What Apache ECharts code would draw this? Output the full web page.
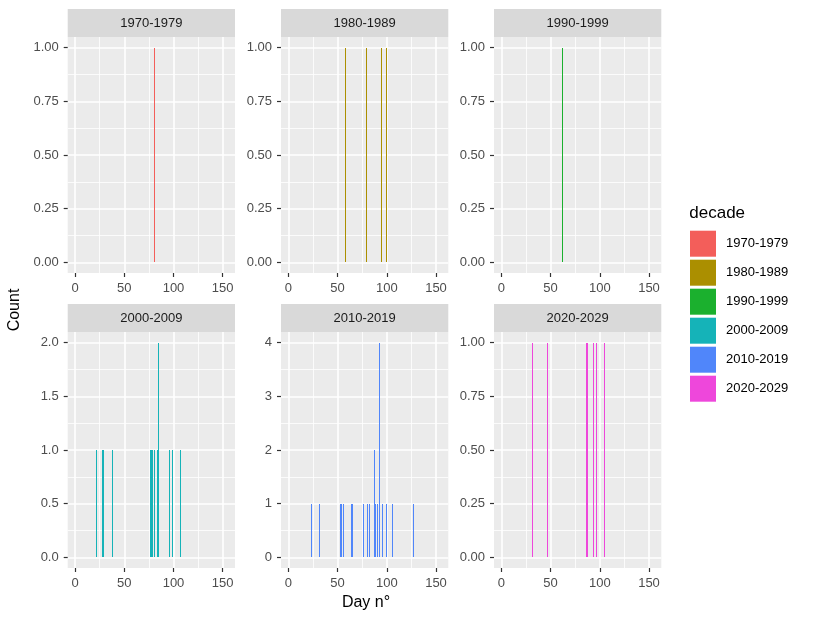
<!DOCTYPE html>
<html><head><meta charset="utf-8">
<script src="https://cdn.jsdelivr.net/npm/echarts@6/dist/echarts.min.js"></script>
<style>html,body{margin:0;padding:0;background:#fff}#c{width:815px;height:621px}</style>
</head><body><div id="c"></div>
<script>
// ---- data ----
const decades = ['1970-1979','1980-1989','1990-1999','2000-2009','2010-2019','2020-2029'];
const colors  = ['#F35E5A','#AB8F00','#1BB02E','#15B3B8','#5086FA','#EE47DB'];
const days1970 = [81];
const counts1970 = [1];
const days1980 = [58, 79, 95, 100];
const counts1980 = [1, 1, 1, 1];
const days1990 = [62];
const counts1990 = [1];
const days2000 = [22, 28, 29, 38, 77, 78, 79, 81, 84, 85, 96, 99, 107];
const counts2000 = [1, 1, 1, 1, 1, 1, 1, 1, 1, 2, 1, 1, 1];
const days2010 = [23, 32, 53, 54, 56, 64, 65, 76, 80, 82, 87, 88, 89, 91, 93, 96, 100, 106, 127];
const counts2010 = [1, 1, 1, 1, 1, 1, 1, 1, 1, 1, 2, 1, 1, 1, 4, 1, 1, 1, 1];
const days2020 = [32, 47, 86, 87, 94, 97, 105];
const counts2020 = [1, 1, 1, 1, 1, 1, 1];
const xTicks = [0, 50, 100, 150];
const yTickMax = [1, 1, 1, 2, 4, 1];
const yTickStep = [0.25, 0.25, 0.25, 0.5, 1, 0.25];
const yTickDecimals = [2, 2, 2, 1, 0, 2];
const binWidth = 1;
const xTitle = 'Day n°';
const yTitle = 'Count';
const legendTitle = 'decade';

const allDays = [days1970, days1980, days1990, days2000, days2010, days2020];
const allCounts = [counts1970, counts1980, counts1990, counts2000, counts2010, counts2020];

// ---- layout ----
const FONT = '"Liberation Sans", Arial, sans-serif';
const colLeft = [67.7, 281, 494];
const panelW = 167.3;
const rowTop = [37, 332];
const panelH = 236;
const stripH = 28;
const xLo = -7.5, xHi = 162.5;   // expanded x range
const xMin = xTicks[0], xMax = xTicks[xTicks.length - 1];

const grids = [], xAxes = [], yAxes = [], series = [], graphics = [];
const hiddenAxis = (gi, min, max) => ({type:'value', gridIndex:gi, min, max, show:false});

function renderBin(params, api) {
  const d = api.value(0), c = api.value(1);
  const p0 = api.coord([d - binWidth / 2, 0]);
  const p1 = api.coord([d + binWidth / 2, c]);
  let x0 = Math.round(p0[0]), x1 = Math.round(p1[0]);
  if (x1 - x0 < 1) x1 = x0 + 1;
  const yb = Math.round(p0[1]), yt = Math.round(p1[1]);
  return {type:'rect', shape:{x:x0, y:yt, width:x1 - x0, height:yb - yt},
    style:{fill:api.visual('color')}};
}

decades.forEach((name, p) => {
  const L = colLeft[p % 3], T = rowTop[Math.floor(p / 3)];
  const yMax = yTickMax[p];
  const xInL = L + panelW * (xMin - xLo) / (xHi - xLo);
  const xInW = panelW * (xMax - xMin) / (xHi - xLo);
  const yInT = T + panelH * 0.05 / 1.1;
  const yInH = panelH / 1.1;
  const base = grids.length;
  // background
  grids.push({left:L, top:T, width:panelW, height:panelH, show:true, backgroundColor:'#EBEBEB', borderWidth:0, z:0});
  xAxes.push(hiddenAxis(base, 0, 1)); yAxes.push(hiddenAxis(base, 0, 1));
  // vertical grid lines + x labels
  grids.push({left:xInL, top:T, width:xInW, height:panelH, z:0});
  xAxes.push({type:'value', gridIndex:base+1, min:xMin, max:xMax, interval:50, z:1,
    axisLine:{show:false},
    axisTick:{show:true, length:4, lineStyle:{color:'#333333', width:1.2}},
    axisLabel:{show:true, color:'#4D4D4D', fontSize:13, fontFamily:FONT, margin:9},
    splitLine:{show:true, lineStyle:{color:'#FFFFFF', width:1.6}},
    minorTick:{show:false, splitNumber:2},
    minorSplitLine:{show:true, lineStyle:{color:'#FFFFFF', width:0.8}}});
  yAxes.push(hiddenAxis(base+1, 0, 1));
  // horizontal grid lines + y labels
  grids.push({left:L, top:yInT, width:panelW, height:yInH, z:0});
  xAxes.push(hiddenAxis(base+2, 0, 1));
  yAxes.push({type:'value', gridIndex:base+2, min:0, max:yMax, interval:yTickStep[p], z:1,
    axisLine:{show:false},
    axisTick:{show:true, length:4, lineStyle:{color:'#333333', width:1.2}},
    axisLabel:{show:true, color:'#4D4D4D', fontSize:13, fontFamily:FONT, margin:9,
      formatter: v => Number(v).toFixed(yTickDecimals[p])},
    splitLine:{show:true, lineStyle:{color:'#FFFFFF', width:1.6}},
    minorTick:{show:false, splitNumber:2},
    minorSplitLine:{show:true, lineStyle:{color:'#FFFFFF', width:0.8}}});
  // data grid
  grids.push({left:xInL, top:yInT, width:xInW, height:yInH, z:0});
  xAxes.push(hiddenAxis(base+3, xMin, xMax));
  yAxes.push(hiddenAxis(base+3, 0, yMax));
  series.push({type:'custom', name:name, xAxisIndex:base+3, yAxisIndex:base+3, z:3,
    renderItem:renderBin, clip:false, silent:true, itemStyle:{color:colors[p]},
    encode:{x:0, y:1},
    data: allDays[p].map((d, i) => [d, allCounts[p][i]])});
  // strip
  graphics.push({type:'rect', shape:{x:L, y:T - stripH, width:panelW, height:stripH}, style:{fill:'#D9D9D9'}});
  graphics.push({type:'text', x:L + panelW / 2, y:T - stripH / 2,
    style:{text:name, align:'center', verticalAlign:'middle', fontSize:13, fontFamily:FONT, fill:'#1A1A1A'}});
});

graphics.push({type:'text', x:366, y:603, style:{text:xTitle, align:'center', verticalAlign:'middle', fontSize:16, fontFamily:FONT, fill:'#000'}});
graphics.push({type:'text', x:15, y:310, rotation:Math.PI/2, style:{text:yTitle, align:'center', verticalAlign:'middle', fontSize:16, fontFamily:FONT, fill:'#000'}});
graphics.push({type:'text', x:689.3, y:213.3, style:{text:legendTitle, align:'left', verticalAlign:'middle', fontSize:17, fontFamily:FONT, fill:'#000'}});

const chart = echarts.init(document.getElementById('c'), null, {renderer:'canvas'});
chart.setOption({
  animation:false,
  backgroundColor:'#FFFFFF',
  grid:grids, xAxis:xAxes, yAxis:yAxes, series:series,
  legend:{show:true, orient:'vertical', left:690, top:230.7, padding:0, itemGap:3,
    itemWidth:26, itemHeight:26, icon:'rect', selectedMode:false,
    data:decades,
    textStyle:{fontSize:13, fontFamily:FONT, color:'#000', padding:[0,0,0,5]}},
  graphic:{elements:graphics}
});
</script></body></html>
